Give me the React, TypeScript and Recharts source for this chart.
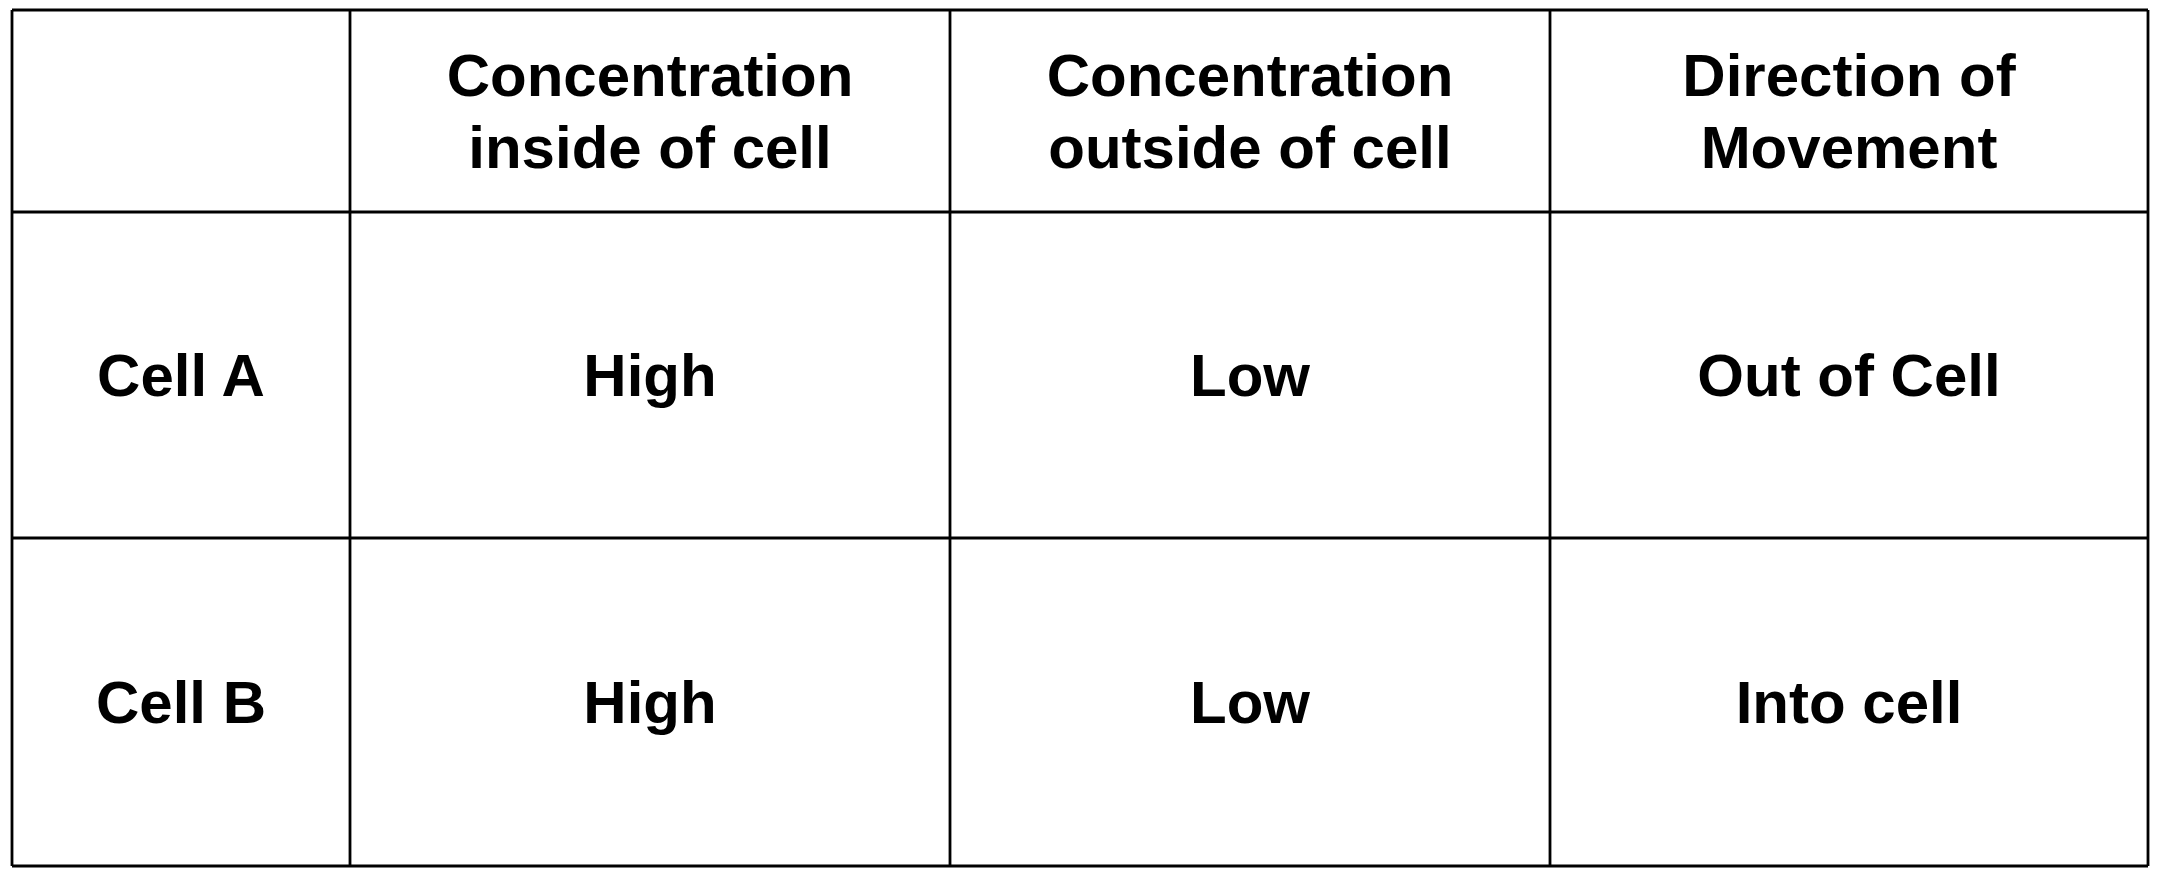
import React from 'react';
import { ScatterChart, Scatter, XAxis, YAxis, ReferenceLine } from 'recharts';

// Table content
const columnHeaders = [
  '',
  'Concentration\ninside of cell',
  'Concentration\noutside of cell',
  'Direction of\nMovement',
];
const rowLabels = ['Cell A', 'Cell B'];
const insideValues = ['High', 'High'];
const outsideValues = ['Low', 'Low'];
const directionValues = ['Out of Cell', 'Into cell'];

// Layout (table units = pixels)
const COL_WIDTHS = [338, 600, 600, 598];
const ROW_HEIGHTS = [202, 326, 328];
const TOTAL_W = COL_WIDTHS.reduce((a, b) => a + b, 0);
const TOTAL_H = ROW_HEIGHTS.reduce((a, b) => a + b, 0);

const FONT_SIZE = 60;
const LINE_HEIGHT = 72;

const edges = (sizes: number[]) =>
  sizes.reduce<number[]>((acc, s) => [...acc, acc[acc.length - 1] + s], [0]);
const colEdges = edges(COL_WIDTHS);
const rowEdges = edges(ROW_HEIGHTS);

const bodyRows = rowLabels.map((label, i) => [
  label,
  insideValues[i],
  outsideValues[i],
  directionValues[i],
]);
const allRows = [columnHeaders, ...bodyRows];

const cells = allRows.flatMap((row, r) =>
  row.map((text, c) => ({
    x: colEdges[c] + COL_WIDTHS[c] / 2,
    y: rowEdges[r] + ROW_HEIGHTS[r] / 2,
    text,
  }))
);

function CellText(props: any) {
  const { cx, cy, payload } = props;
  const lines: string[] = String(payload.text).split('\n').filter((l) => l);
  if (!lines.length) return <g />;
  const capShift = FONT_SIZE * 0.358;
  const first = cy - ((lines.length - 1) * LINE_HEIGHT) / 2 + capShift;
  return (
    <text
      x={cx}
      textAnchor="middle"
      fontFamily="'Liberation Sans', Arial, sans-serif"
      fontWeight="bold"
      fontSize={FONT_SIZE}
      fill="#000"
    >
      {lines.map((line, i) => (
        <tspan key={i} x={cx} y={first + i * LINE_HEIGHT}>
          {line}
        </tspan>
      ))}
    </text>
  );
}

export default function App() {
  return (
    <div style={{ position: 'absolute', left: 0, top: 0, background: '#fff' }}>
      <ScatterChart
        width={2160}
        height={876}
        margin={{ top: 10, left: 12, right: 12, bottom: 10 }}
      >
        <XAxis type="number" dataKey="x" domain={[0, TOTAL_W]} hide allowDataOverflow />
        <YAxis type="number" dataKey="y" domain={[0, TOTAL_H]} reversed hide allowDataOverflow />
        {colEdges.map((x, i) => (
          <ReferenceLine key={`c${i}`} x={x} stroke="#000" strokeWidth={2.8} ifOverflow="visible" />
        ))}
        {rowEdges.map((y, i) => (
          <ReferenceLine key={`r${i}`} y={y} stroke="#000" strokeWidth={2.8} ifOverflow="visible" />
        ))}
        <Scatter data={cells} shape={CellText} isAnimationActive={false} />
      </ScatterChart>
    </div>
  );
}
